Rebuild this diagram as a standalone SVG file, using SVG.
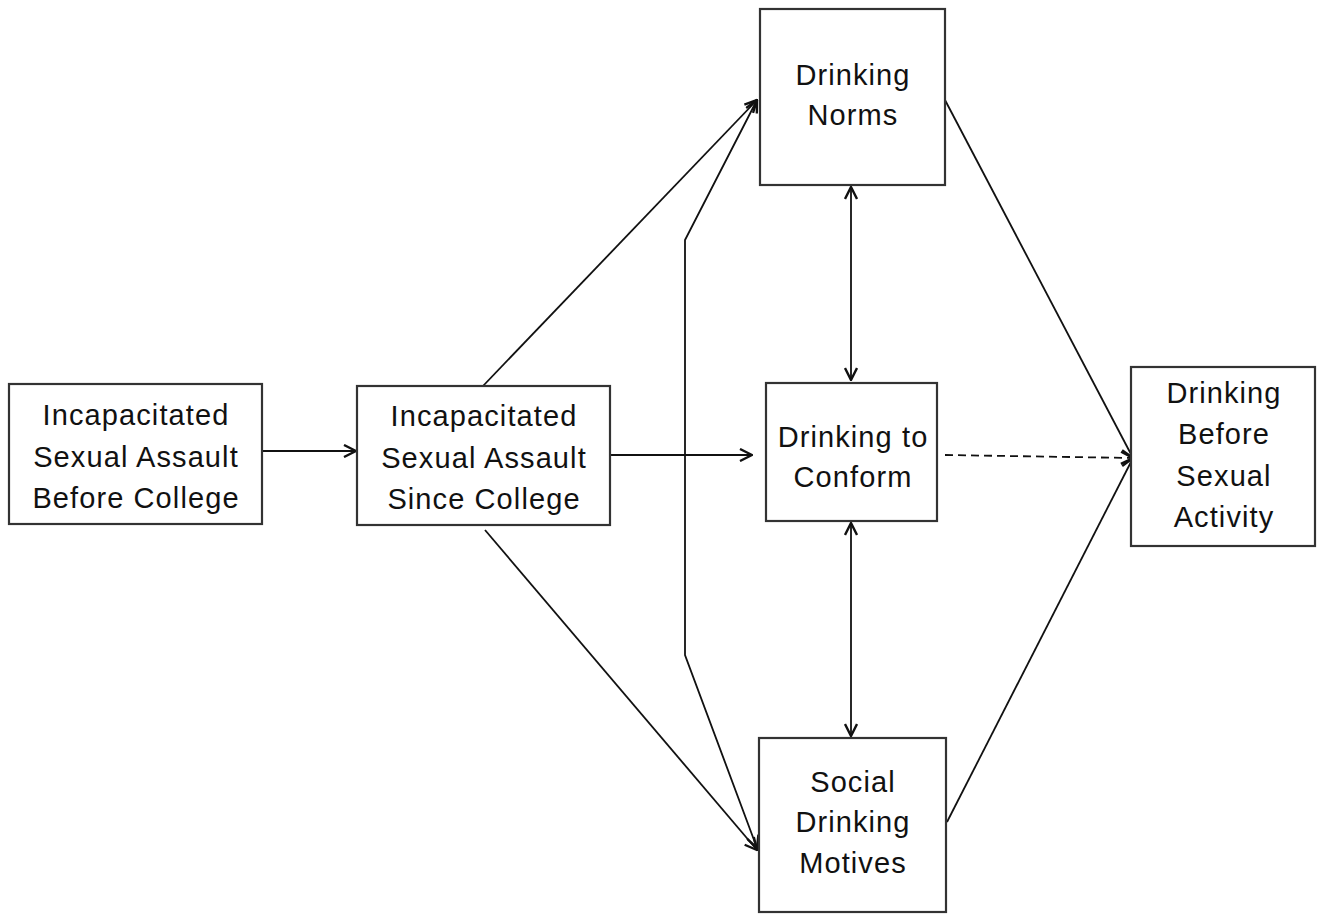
<svg xmlns="http://www.w3.org/2000/svg" width="1325" height="919" viewBox="0 0 1325 919">
<defs>
<marker id="ah" viewBox="0 0 14 14" refX="13" refY="7" markerWidth="14" markerHeight="14" markerUnits="userSpaceOnUse" orient="auto-start-reverse">
<path d="M1,1 L13,7 L1,13" fill="none" stroke="#111" stroke-width="2.4"/>
</marker>
</defs>
<style>
.box{fill:#fff;stroke:#333;stroke-width:2.2}
.t{font-family:"Liberation Sans",Arial,sans-serif;font-size:29px;letter-spacing:1.1px;fill:#111;text-anchor:middle}
.c{fill:none;stroke:#111;stroke-width:1.8}
.d{stroke-dasharray:8,5}
</style>
<rect width="1325" height="919" fill="#fff"/>
<g id="connectors">
<line class="c" x1="262" y1="451" x2="356" y2="451" marker-end="url(#ah)"/>
<line class="c" x1="610" y1="455" x2="752" y2="455" marker-end="url(#ah)"/>
<line class="c" x1="483" y1="386" x2="757" y2="100" marker-end="url(#ah)"/>
<line class="c" x1="485" y1="530" x2="757" y2="850" marker-end="url(#ah)"/>
<polyline class="c" points="757,100 685,240 685,655 757,848" marker-start="url(#ah)" marker-end="url(#ah)"/>
<line class="c" x1="851" y1="187" x2="851" y2="380" marker-start="url(#ah)" marker-end="url(#ah)"/>
<line class="c" x1="851" y1="523" x2="851" y2="736" marker-start="url(#ah)" marker-end="url(#ah)"/>
<line class="c" x1="945" y1="100" x2="1133" y2="458" marker-end="url(#ah)"/>
<line class="c d" x1="945" y1="455" x2="1133" y2="458" marker-end="url(#ah)"/>
<line class="c" x1="947" y1="822" x2="1133" y2="458" marker-end="url(#ah)"/>
</g>
<g id="before">
<rect class="box" x="9" y="384" width="253" height="140"/>
<text class="t" x="136" y="425">Incapacitated</text>
<text class="t" x="136" y="467">Sexual Assault</text>
<text class="t" x="136" y="508">Before College</text>
</g>
<g id="since">
<rect class="box" x="357" y="386" width="253" height="139"/>
<text class="t" x="484" y="426">Incapacitated</text>
<text class="t" x="484" y="468">Sexual Assault</text>
<text class="t" x="484" y="509">Since College</text>
</g>
<g id="norms">
<rect class="box" x="760" y="9" width="185" height="176"/>
<text class="t" x="853" y="85">Drinking</text>
<text class="t" x="853" y="125">Norms</text>
</g>
<g id="conform">
<rect class="box" x="766" y="383" width="171" height="138"/>
<text class="t" x="853" y="447">Drinking to</text>
<text class="t" x="853" y="487">Conform</text>
</g>
<g id="social">
<rect class="box" x="759" y="738" width="187" height="174"/>
<text class="t" x="853" y="792">Social</text>
<text class="t" x="853" y="832">Drinking</text>
<text class="t" x="853" y="873">Motives</text>
</g>
<g id="outcome">
<rect class="box" x="1131" y="367" width="184" height="179"/>
<text class="t" x="1224" y="403">Drinking</text>
<text class="t" x="1224" y="444">Before</text>
<text class="t" x="1224" y="486">Sexual</text>
<text class="t" x="1224" y="527">Activity</text>
</g>
</svg>
